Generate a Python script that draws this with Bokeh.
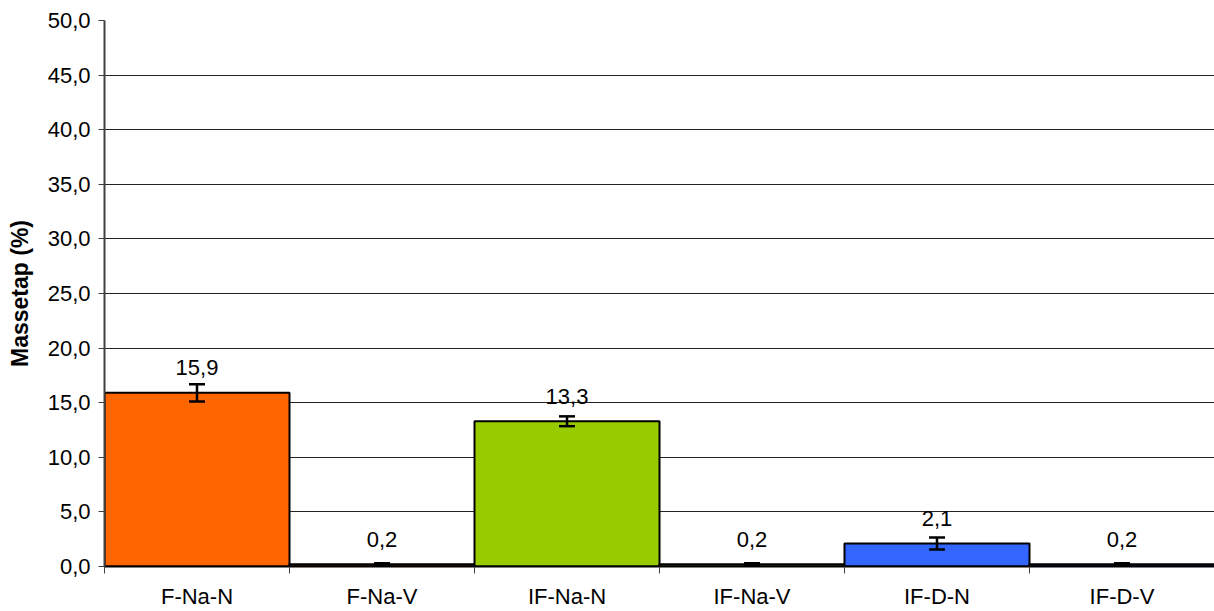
from bokeh.plotting import figure
from bokeh.models import ColumnDataSource, Range1d, FixedTicker, Whisker, TeeHead
from bokeh.core.properties import value
from bokeh.embed import file_html
from bokeh.resources import INLINE

categories = ["F-Na-N", "F-Na-V", "IF-Na-N", "IF-Na-V", "IF-D-N", "IF-D-V"]
values = [15.9, 0.2, 13.3, 0.2, 2.1, 0.2]
errors = [0.8, 0.1, 0.45, 0.1, 0.55, 0.1]
colors = ["#FF6600", "#FF6600", "#99CC00", "#99CC00", "#3366FF", "#3366FF"]
y_ticks = [0, 5, 10, 15, 20, 25, 30, 35, 40, 45, 50]

FONT = "Liberation Sans"

xs = [i + 0.5 for i in range(len(categories))]
src = ColumnDataSource(dict(
    x=xs,
    top=values,
    color=colors,
    upper=[v + e for v, e in zip(values, errors)],
    lower=[v - e for v, e in zip(values, errors)],
    label=[f"{v:.1f}".replace(".", ",") for v in values],
))

p = figure(width=1214, height=611, output_backend="svg", toolbar_location=None,
           x_range=Range1d(0, 6), y_range=Range1d(0, 50),
           min_border_left=104, min_border_right=0, min_border_top=20, min_border_bottom=45)
p.outline_line_color = None
p.background_fill_color = "white"
p.border_fill_color = "white"

p.vbar(x="x", top="top", width=1.0, bottom=0, source=src, fill_color="color",
       line_color="black", line_width=2)

wh = Whisker(base="x", upper="upper", lower="lower", source=src,
             line_color="black", line_width=2.5, level="overlay",
             upper_head=TeeHead(size=16, line_color="black", line_width=2.5),
             lower_head=TeeHead(size=16, line_color="black", line_width=2.5))
p.add_layout(wh)

p.text(x="x", y="top", text="label", source=src, text_font=value(FONT),
       text_font_size="22px", text_align="center", text_baseline="alphabetic",
       y_offset=-25, text_color="black")

# y axis
p.yaxis.ticker = FixedTicker(ticks=y_ticks)
p.yaxis.major_label_overrides = {t: f"{t:.1f}".replace(".", ",") for t in y_ticks}
p.yaxis.major_label_text_font = FONT
p.yaxis.major_label_text_font_size = "22px"
p.yaxis.major_label_text_color = "black"
p.yaxis.major_tick_out = 6
p.yaxis.major_tick_in = 0
p.yaxis.minor_tick_out = 0
p.yaxis.minor_tick_in = 0
p.yaxis.major_label_standoff = 8
p.yaxis.axis_line_color = "#404040"
p.yaxis.axis_line_width = 2
p.yaxis.major_tick_line_color = "#404040"
p.yaxis.axis_label = "Massetap (%)"
p.yaxis.axis_label_text_font = FONT
p.yaxis.axis_label_text_font_style = "bold"
p.yaxis.axis_label_text_font_size = "23px"
p.yaxis.axis_label_text_color = "black"
p.yaxis.axis_label_standoff = 12

# x axis
p.xaxis.ticker = FixedTicker(ticks=xs, minor_ticks=list(range(len(categories) + 1)))
p.xaxis.major_label_overrides = {x: c for x, c in zip(xs, categories)}
p.xaxis.major_label_text_font = FONT
p.xaxis.major_label_text_font_size = "22px"
p.xaxis.major_label_text_color = "black"
p.xaxis.major_tick_out = 0
p.xaxis.major_tick_in = 0
p.xaxis.minor_tick_out = 7
p.xaxis.minor_tick_in = 0
p.xaxis.minor_tick_line_color = "#404040"
p.xaxis.major_label_standoff = 10
p.xaxis.axis_line_color = "black"
p.xaxis.axis_line_width = 2

p.xgrid.grid_line_color = None
p.ygrid.ticker = FixedTicker(ticks=y_ticks)
p.ygrid.grid_line_color = "#222222"
p.ygrid.grid_line_width = 1

open("out.html", "w").write(file_html(p, INLINE))
